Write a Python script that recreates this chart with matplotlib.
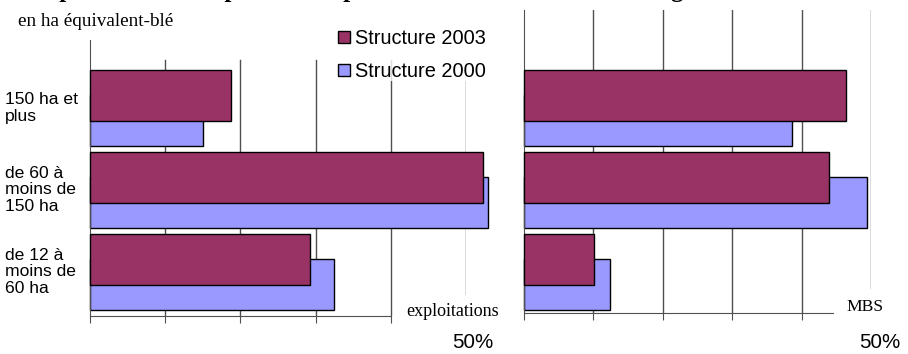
import matplotlib.pyplot as plt
from matplotlib.transforms import blended_transform_factory

# data (percent)
categories = ['150 ha et\nplus', 'de 60 à\nmoins de\n150 ha', 'de 12 à\nmoins de\n60 ha']
series_names = ['Structure 2003', 'Structure 2000']
exploitations_2003 = [18.7, 52.3, 29.3]
exploitations_2000 = [15.0, 52.9, 32.4]
mbs_2003 = [46.4, 43.9, 10.1]
mbs_2000 = [38.6, 49.4, 12.4]
grid_ticks = [10, 20, 30, 40, 50]
axis_ticks = [0, 10, 20, 30, 40]

title = 'Répartition des exploitations par classe de taille et de la marge brute standard'

W, H = 908, 354
COL_2003 = '#993366'
COL_2000 = '#9999ff'
GRID = '#505050'
SANS = 'Liberation Sans'
SERIF = 'Liberation Serif'


def box(x0, y0, x1, y1):
    """Pixel box (origin top-left) -> figure fraction rect."""
    return [x0 / W, 1 - y1 / H, (x1 - x0) / W, (y1 - y0) / H]


def draw_panel(fig, rect_px, v2003, v2000, grid_top, last_bottom, spine_end):
    x0, top, x1, bottom = rect_px
    ax = fig.add_axes(box(x0, top, x1, bottom))
    ax.set_xlim(0, 50)
    # group k centred at pixel 108 + 82 k
    ax.set_ylim((bottom - 108) / 82, (top - 108) / 82)

    pos = list(range(len(categories)))
    b2000 = ax.barh([p + 0.152 for p in pos], v2000, height=0.622, color=COL_2000,
                    edgecolor='black', linewidth=1, clip_on=False, zorder=2)
    b2003 = ax.barh([p - 0.152 for p in pos], v2003, height=0.622, color=COL_2003,
                    edgecolor='black', linewidth=1, clip_on=False, zorder=3)

    span = bottom - top
    for t in grid_ticks:
        ymin = (bottom - last_bottom) / span if t == 50 else 0
        ax.axvline(t, ymin=ymin, ymax=(bottom - grid_top) / span,
                   color=GRID, linewidth=1, zorder=1)

    for side in ['top', 'right']:
        ax.spines[side].set_visible(False)
    ax.spines['left'].set_color(GRID)
    ax.spines['bottom'].set_color(GRID)
    ax.spines['bottom'].set_bounds(0, spine_end)
    ax.set_xticks(axis_ticks)
    ax.set_xticklabels([])
    ax.tick_params(axis='x', direction='out', length=5, color=GRID)
    ax.set_yticks([])
    return ax, b2003, b2000


def main():
    plt.rcParams['font.family'] = [SANS, 'DejaVu Sans']
    fig = plt.figure(figsize=(W / 100, H / 100), dpi=100)

    ax1, h2003, h2000 = draw_panel(fig, (90, 40, 466, 316), exploitations_2003,
                                   exploitations_2000, 60, 294, 40)
    ax2, _, _ = draw_panel(fig, (524, 10, 871, 313), mbs_2003, mbs_2000,
                           10, 288, 44.5)

    # category labels, left aligned at the figure edge
    trans = blended_transform_factory(fig.transFigure, ax1.transData)
    for k, label in enumerate(categories):
        ax1.text(5 / W, k, label, transform=trans, ha='left', va='center',
                 fontsize=12.6, linespacing=1.15)

    leg = fig.legend([h2003, h2000], series_names, loc='upper left',
                     bbox_to_anchor=(338 / W, 1 - 29 / H), borderaxespad=0,
                     borderpad=0, frameon=True, fancybox=False,
                     handlelength=0.6, handleheight=0.6, handletextpad=0.25,
                     labelspacing=0.7, prop={'family': SANS, 'size': 14.4})
    leg.get_frame().set_edgecolor('none')
    leg.get_frame().set_facecolor('white')

    # title sits above the top edge, only its descenders show (as in the source)
    fig.text(30 / W, 1 + 3 / H, title, ha='left', va='baseline',
             family=SERIF, fontweight='bold', fontsize=18)
    fig.text(18 / W, 1 - 21 / H, 'en ha équivalent-blé', ha='left', va='center',
             family=SERIF, fontsize=13.8)
    fig.text(453 / W, 1 - 312 / H, 'exploitations', ha='center', va='center',
             family=SERIF, fontsize=13)
    fig.text(865 / W, 1 - 307 / H, 'MBS', ha='center', va='center',
             family=SERIF, fontsize=12.6)
    fig.text(473 / W, 1 - 342 / H, '50%', ha='center', va='center', fontsize=14.8)
    fig.text(880 / W, 1 - 343 / H, '50%', ha='center', va='center', fontsize=14.8)

    fig.savefig('out.png', dpi=100)
    plt.close(fig)


if __name__ == "__main__":
    main()
